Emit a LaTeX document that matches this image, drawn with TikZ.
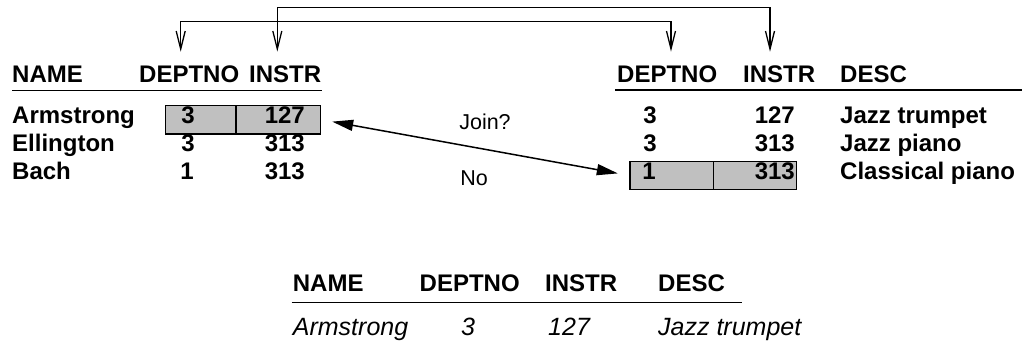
\documentclass[tikz,border=0pt]{standalone}
\usepackage{fontspec}
\setmainfont{Liberation Sans}
\usetikzlibrary{arrows.meta}
\definecolor{cellgray}{RGB}{192,192,192}
\begin{document}
\begin{tikzpicture}[x=1pt,y=-1pt,
  hdr/.style={inner sep=0pt, font=\fontsize{24}{28}\selectfont\bfseries},
  val/.style={inner sep=0pt, font=\fontsize{24}{28}\selectfont\bfseries},
  note/.style={inner sep=0pt, font=\fontsize{21.5}{25}\selectfont},
  res/.style={inner sep=0pt, font=\fontsize{25}{29}\selectfont\itshape},
  rule/.style={line width=1.3pt},
  cell/.style={draw, line width=1.3pt, fill=cellgray, inner sep=0pt},
  keylink/.style={line width=1.3pt, {Straight Barb[length=18pt,width=9pt]}-{Straight Barb[length=18pt,width=9pt]}},
  joinlink/.style={line width=1.5pt, {Triangle[length=21pt,width=11pt]}-{Triangle[length=21pt,width=11pt]}}
]
\useasboundingbox (0,0) rectangle (1027,343);

% highlighted key cells
\node[cell, minimum width=70.3pt, minimum height=28.7pt] (lcellA) at (200.85,119.65) {};
\node[cell, minimum width=84.7pt, minimum height=28.7pt] (lcellB) at (278.35,119.65) {};
\node[cell, minimum width=83.3pt, minimum height=27.6pt] (rcellA) at (671.65,175.5) {};
\node[cell, minimum width=83.4pt, minimum height=27.6pt] (rcellB) at (755,175.5) {};

% left table
\node[hdr, anchor=base west] (lName) at (12,82) {NAME};
\node[hdr, anchor=base west] (lDept) at (139,82) {DEPTNO};
\node[hdr, anchor=base west] (lInstr) at (249,82) {INSTR};
\draw[rule] (12,90.7) -- (322,90.7);
\node[val, anchor=base west] (n1) at (12,123.5) {Armstrong};
\node[val, anchor=base west] (n2) at (12,151.5) {Ellington};
\node[val, anchor=base west] (n3) at (12,179.5) {Bach};
\node[val, anchor=base] (d1) at (188,123.5) {3};
\node[val, anchor=base] (d2) at (188,151.5) {3};
\node[val, anchor=base] (d3) at (187,179.5) {1};
\node[val, anchor=base east] (i1) at (305,123.5) {127};
\node[val, anchor=base east] (i2) at (305,151.5) {313};
\node[val, anchor=base east] (i3) at (305,179.5) {313};

% right table
\node[hdr, anchor=base west] (rDept) at (617,82) {DEPTNO};
\node[hdr, anchor=base west] (rInstr) at (743,82) {INSTR};
\node[hdr, anchor=base west] (rDesc) at (840,82) {DESC};
\draw[rule] (615,90) -- (1022,90);
\node[val, anchor=base] (e1) at (650,123) {3};
\node[val, anchor=base] (e2) at (650,151) {3};
\node[val, anchor=base] (e3) at (649,179) {1};
\node[val, anchor=base east] (j1) at (795,123) {127};
\node[val, anchor=base east] (j2) at (795,151) {313};
\node[val, anchor=base east] (j3) at (795,179) {313};
\node[val, anchor=base west] (s1) at (840,123) {Jazz trumpet};
\node[val, anchor=base west] (s2) at (840,151) {Jazz piano};
\node[val, anchor=base west] (s3) at (840,179) {Classical piano};

% key links between the two header rows
\coordinate (kDeptL) at (180.7,51.7);
\coordinate (kDeptR) at (671,51.7);
\coordinate (kInstrL) at (277.3,51.7);
\coordinate (kInstrR) at (770,51.7);
\draw[keylink] (kDeptL) -- ++(0,-30) -| (kDeptR);
\draw[keylink] (kInstrL) -- ++(0,-44.4) -| (kInstrR);

% join test between rows
\draw[joinlink, shorten <=11pt, shorten >=11.7pt] (lcellB.east) -- (rcellA.west);
\node[note, anchor=base] (join) at (485,129) {Join?};
\node[note, anchor=base] (no) at (474,185) {No};

% result table
\node[hdr, anchor=base west] (bName) at (292.7,291.7) {NAME};
\node[hdr, anchor=base west] (bDept) at (419.5,291.7) {DEPTNO};
\node[hdr, anchor=base west] (bInstr) at (545,291.7) {INSTR};
\node[hdr, anchor=base west] (bDesc) at (658,291.7) {DESC};
\draw[rule] (291.7,302.7) -- (741.7,302.7);
\node[res, anchor=base west] (rn) at (292.7,335) {Armstrong};
\node[res, anchor=base west] (rd) at (461,335) {3};
\node[res, anchor=base west] (ri) at (548,335) {127};
\node[res, anchor=base west] (rs) at (658,335) {Jazz trumpet};
\end{tikzpicture}
\end{document}
